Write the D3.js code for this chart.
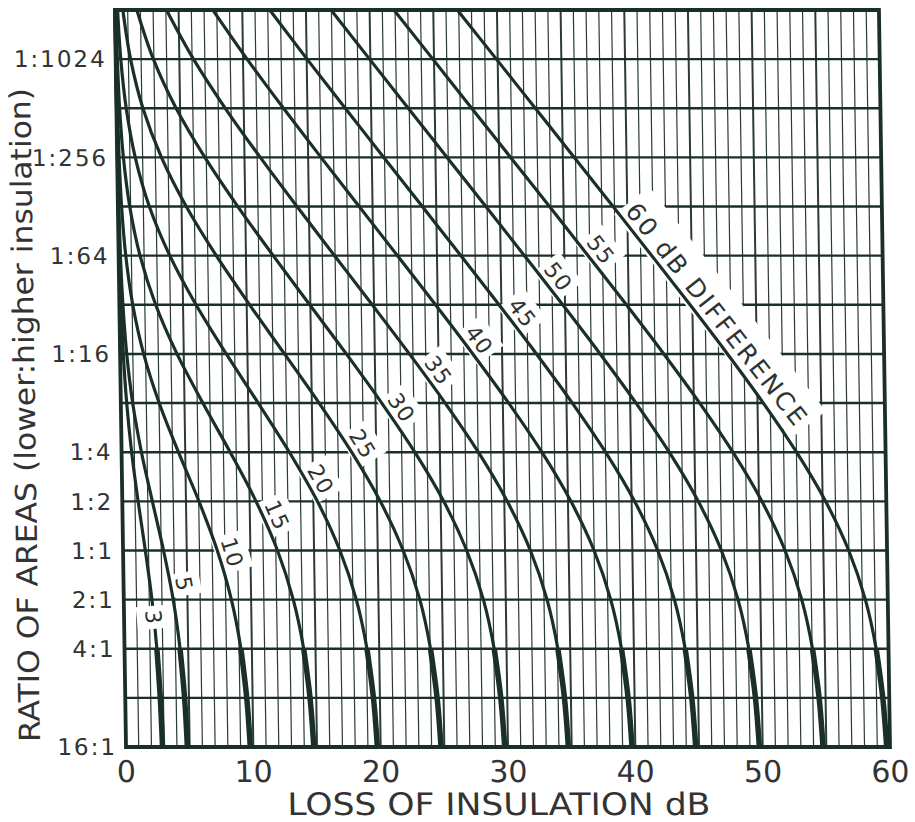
<!DOCTYPE html>
<html><head><meta charset="utf-8">
<script src="https://cdn.jsdelivr.net/npm/d3@7"></script>
<style>
html,body{margin:0;padding:0;background:#fff;}
svg{display:block;}
text{font-family:"DejaVu Sans",sans-serif;}
</style></head>
<body><svg id="chart" width="915" height="822"></svg>
<script>
// log2 of area ratio (lower : higher insulation), top = 1:2048, bottom = 16:1
const ratioLog2 = [-11,-10,-9,-8,-7,-6,-5,-4,-3,-2,-1,0,1,2,3,4];
const ratioTicks = [-10,-8,-6,-4,-2,-1,0,1,2,4];
const ratioTickLabels = ["1:1024","1:256","1:64","1:16","1:4","1:2","1:1","2:1","4:1","16:1"];
const lossTicks = [0,10,20,30,40,50,60];
const differences = [3,5,10,15,20,25,30,35,40,45,50,55,60];
const curveLabels = ["3","5","10","15","20","25","30","35","40","45","50","55","60 dB DIFFERENCE"];

// loss of insulation (dB), one value per ratioLog2 step
const loss03 = [0.00,0.00,0.01,0.02,0.03,0.07,0.13,0.25,0.46,0.79,1.24,1.75,2.21,2.54,2.75,2.87];
const loss05 = [0.00,0.01,0.02,0.04,0.07,0.14,0.28,0.52,0.93,1.56,2.36,3.18,3.88,4.36,4.66,4.82];
const loss10 = [0.02,0.04,0.08,0.15,0.29,0.56,1.05,1.85,3.01,4.47,6.02,7.40,8.45,9.14,9.54,9.76];
const loss15 = [0.06,0.13,0.25,0.49,0.93,1.68,2.85,4.47,6.44,8.53,10.50,12.13,13.31,14.07,14.51,14.75];
const loss20 = [0.21,0.40,0.77,1.42,2.47,4.02,6.02,8.34,10.79,13.18,15.32,17.03,18.26,19.04,19.49,19.74];
const loss25 = [0.62,1.17,2.08,3.48,5.37,7.67,10.23,12.91,15.57,18.07,20.26,22.00,23.25,24.03,24.49,24.74];
const loss30 = [1.72,2.96,4.69,6.89,9.42,12.14,14.95,17.77,20.49,23.03,25.24,26.99,28.24,29.03,29.49,29.74];
const loss35 = [4.05,6.11,8.55,11.24,14.07,16.96,19.86,22.72,25.47,28.02,30.23,31.99,33.24,34.03,34.49,34.74];
const loss40 = [7.69,10.32,13.12,16.01,18.95,21.90,24.83,27.70,30.46,33.01,35.23,36.99,38.24,39.03,39.49,39.74];
const loss45 = [12.16,15.03,17.97,20.94,23.91,26.88,29.82,32.70,35.46,38.01,40.23,41.99,43.24,44.03,44.49,44.74];
const loss50 = [16.97,19.94,22.92,25.91,28.90,31.87,34.82,37.70,40.46,43.01,45.23,46.99,48.24,49.03,49.49,49.74];
const loss55 = [21.91,24.91,27.90,30.90,33.90,36.87,39.82,42.70,45.46,48.01,50.23,51.99,53.24,54.03,54.49,54.74];
const loss60 = [26.89,29.90,32.90,35.90,38.89,41.87,44.82,47.70,50.46,53.01,55.23,56.99,58.24,59.03,59.49,59.74];
const lossSeries = [loss03,loss05,loss10,loss15,loss20,loss25,loss30,loss35,loss40,loss45,loss50,loss55,loss60];

// label placement (position along each curve, in log2 ratio units)
const labelAt = [1.36,0.73,0.12,-0.61,-1.31,-2.02,-2.75,-3.5,-4.12,-4.67,-5.40,-5.95,-6.83];

const INK = "#1b2f29", TXT = "#2f3431";
const m = {left:126, right:890, top:10, bottom:747};
const x = d3.scaleLinear().domain([0,60]).range([m.left,m.right]);
const y = d3.scaleLog().base(2).domain([Math.pow(2,-11),16]).range([m.top,m.bottom]);

const svg = d3.select("#chart");
svg.append("rect").attr("width",915).attr("height",822).attr("fill","#fff");
const root = svg.append("g").attr("transform",`translate(0,${m.bottom}) skewX(0.86) translate(0,${-m.bottom})`);

// grid
const grid = root.append("g");
grid.selectAll("line.v").data(d3.range(1,60)).join("line")
  .attr("x1",d=>x(d)).attr("x2",d=>x(d)).attr("y1",m.top).attr("y2",m.bottom)
  .attr("stroke","#2c3b36").attr("stroke-width",d=>d%5===0?2:1.2);
grid.selectAll("line.h").data(d3.range(-10,4)).join("line")
  .attr("x1",m.left).attr("x2",m.right).attr("y1",d=>y(Math.pow(2,d))).attr("y2",d=>y(Math.pow(2,d)))
  .attr("stroke",INK).attr("stroke-width",2.4);

const haloLayer = root.append("g");
const curveLayer = root.append("g");
const haloTop = root.append("g");
const labelLayer = root.append("g");

const line = d3.line().x(d=>x(d[1])).y(d=>y(Math.pow(2,d[0]))).curve(d3.curveMonotoneY);
lossSeries.forEach(s=>{
  const pts = ratioLog2.map((k,i)=>[k,s[i]]);
  curveLayer.append("path").attr("d",line(pts)).attr("fill","none")
    .attr("stroke",INK).attr("stroke-width",3.2).attr("stroke-linejoin","round");
  curveLayer.append("path").attr("d",line(pts.filter(p=>p[0]>=2))).attr("fill","none")
    .attr("stroke",INK).attr("stroke-width",5.5);
});

// border
root.append("rect").attr("x",m.left).attr("y",m.top).attr("width",m.right-m.left).attr("height",m.bottom-m.top)
  .attr("fill","none").attr("stroke",INK).attr("stroke-width",3.8);

function lossAt(s,k){
  const i = Math.max(0,Math.min(ratioLog2.length-2,Math.floor(k-ratioLog2[0])));
  const t = (k-ratioLog2[i])/(ratioLog2[i+1]-ratioLog2[i]);
  return s[i]+t*(s[i+1]-s[i]);
}
function pt(s,k){return [x(lossAt(s,k)), y(Math.pow(2,k))];}

curveLabels.forEach((lab,i)=>{
  const s = lossSeries[i], k = labelAt[i];
  const p = pt(s,k), a = pt(s,k-0.3), b = pt(s,k+0.3);
  const ang = Math.atan2(b[1]-a[1], b[0]-a[0])*180/Math.PI;
  const big = i===curveLabels.length-1;
  const onLine = i===0;
  const g = labelLayer.append("g").attr("transform",`translate(${p[0]},${p[1]}) rotate(${ang})`);
  const t = g.append("text").text(lab)
    .attr("x",0).attr("y",onLine?0:-6).attr("dy",onLine?"0.36em":null)
    .attr("text-anchor",big?"start":"middle")
    .attr("font-size",big?25:22).attr("letter-spacing",big?2.4:1)
    .attr("fill",TXT);
  const bb = t.node().getBBox();
  const padT = big?12:4, pad = 4;
  (onLine?haloTop:haloLayer).append("rect")
    .attr("transform",`translate(${p[0]},${p[1]}) rotate(${ang})`)
    .attr("x",bb.x-pad).attr("y",bb.y-padT).attr("width",bb.width+2*pad).attr("height",bb.height+padT+pad)
    .attr("fill","#fff");
});

// y tick labels
root.append("g").selectAll("text").data(ratioTicks).join("text")
  .attr("x",m.left-9).attr("y",d=>y(Math.pow(2,d))).attr("dy","0.36em")
  .attr("text-anchor","end").attr("font-size",23).attr("letter-spacing",2).attr("fill","#333")
  .text((d,i)=>ratioTickLabels[i]);

// x tick labels
root.append("g").selectAll("text").data(lossTicks).join("text")
  .attr("x",d=>x(d)).attr("y",782).attr("text-anchor","middle")
  .attr("font-family","Liberation Sans, Arial, sans-serif").attr("font-size",30).attr("fill","#333")
  .text(d=>d);

// titles
root.append("text").attr("x",498).attr("y",815).attr("text-anchor","middle")
  .attr("font-size",31).attr("fill","#333").attr("textLength",423).attr("lengthAdjust","spacingAndGlyphs")
  .text("LOSS OF INSULATION dB");
root.append("text").attr("transform","translate(40,415) rotate(-90)").attr("text-anchor","middle")
  .attr("font-size",29).attr("fill","#333").attr("textLength",654).attr("lengthAdjust","spacingAndGlyphs")
  .text("RATIO OF AREAS (lower:higher insulation)");
</script>
</body></html>
